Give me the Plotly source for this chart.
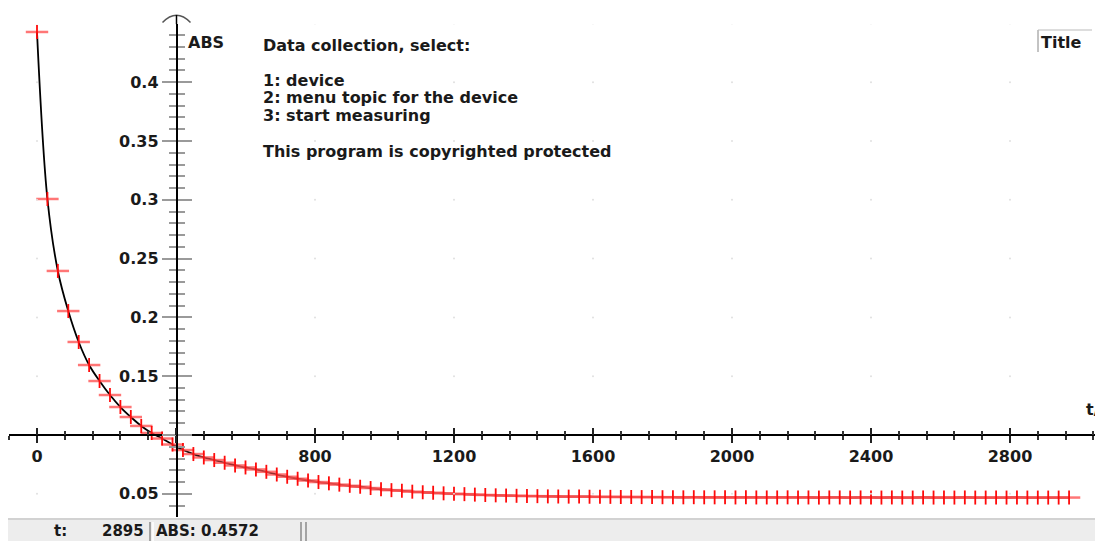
import plotly.graph_objects as go

# ---------------- data ----------------
T_S = [0, 30, 60, 90, 120, 150, 180, 210, 240, 270,
       300, 330, 360, 390, 420, 450, 480, 510, 540, 570,
       600, 630, 660, 690, 720, 750, 780, 810, 840, 870,
       900, 930, 960, 990, 1020, 1050, 1080, 1110, 1140, 1170,
       1200, 1230, 1260, 1290, 1320, 1350, 1380, 1410, 1440, 1470,
       1500, 1530, 1560, 1590, 1620, 1650, 1680, 1710, 1740, 1770,
       1800, 1830, 1860, 1890, 1920, 1950, 1980, 2010, 2040, 2070,
       2100, 2130, 2160, 2190, 2220, 2250, 2280, 2310, 2340, 2370,
       2400, 2430, 2460, 2490, 2520, 2550, 2580, 2610, 2640, 2670,
       2700, 2730, 2760, 2790, 2820, 2850, 2880, 2910, 2940, 2970]

ABS = [0.4427, 0.3007, 0.2395, 0.2054, 0.1791, 0.1595, 0.1459, 0.1340, 0.1238, 0.1153,
       0.1077, 0.1017, 0.0970, 0.0919, 0.0872, 0.0838, 0.0809, 0.0787, 0.0764, 0.0741,
       0.0724, 0.0707, 0.0687, 0.0664, 0.0645, 0.0628, 0.0613, 0.0600, 0.0589, 0.0578,
       0.0568, 0.0560, 0.0549, 0.0538, 0.0531, 0.0526, 0.0518, 0.0513, 0.0509, 0.0504,
       0.0500, 0.0497, 0.0493, 0.0490, 0.0487, 0.0485, 0.0483, 0.0481, 0.0480, 0.0478,
       0.0477, 0.0476, 0.0476, 0.0475, 0.0474, 0.0474, 0.0473, 0.0473, 0.0472, 0.0472,
       0.0471, 0.0471, 0.0470, 0.0471, 0.0470, 0.0470, 0.0470, 0.0469, 0.0470, 0.0469,
       0.0469, 0.0469, 0.0470, 0.0469, 0.0469, 0.0468, 0.0469, 0.0469, 0.0468, 0.0469,
       0.0469, 0.0468, 0.0469, 0.0468, 0.0468, 0.0469, 0.0468, 0.0468, 0.0468, 0.0469,
       0.0468, 0.0468, 0.0468, 0.0468, 0.0469, 0.0468, 0.0468, 0.0468, 0.0468, 0.0468]

X_TICKS = [0, 400, 800, 1200, 1600, 2000, 2400, 2800]
X_TICK_TEXT = ["0", "", "800", "1200", "1600", "2000", "2400", "2800"]
Y_TICKS = [0.05, 0.10, 0.15, 0.20, 0.25, 0.30, 0.35, 0.40]
Y_TICK_TEXT = ["0.05", "", "0.15", "0.2", "0.25", "0.3", "0.35", "0.4"]
GRID_Y = [0.05, 0.10, 0.15, 0.20, 0.25, 0.30, 0.35, 0.40, 0.45]

X_LABEL = "t/s"
Y_LABEL = "ABS"
LEGEND_TITLE = "Title"
INFO_LINES = [
    ("Data collection, select:", 45),
    ("1: device", 80),
    ("2: menu topic for the device", 97),
    ("3: start measuring", 115),
    ("This program is copyrighted protected", 151),
]
STATUS_T = "2895"
STATUS_ABS = "0.4572"

# ---------------- geometry (screen pixels) ----------------
W, H = 1103, 541
OFF = 8                 # page body margin that shifts the figure
PLOT_BOTTOM = 520       # screen y of drawing-area bottom (status bar below)
PLOT_H = PLOT_BOTTOM - OFF
X0_PX = 37.0            # screen x of t = 0
X_SCALE = 0.3475        # px per second
Y01_PX = 435.0          # screen y of ABS = 0.1
Y_SCALE = 1176.0        # px per ABS unit
YAXIS_PX = 176.5        # y-axis crosses at t = 400
XAXIS_LEFT_PX = 9
YAXIS_TOP_PX = 24
YAXIS_BOT_PX = 517


def px(x):
    return (x - OFF) / W


def py(y):
    return (PLOT_BOTTOM - y) / PLOT_H


def t_at(xp):
    return (xp - X0_PX) / X_SCALE


def a_at(yp):
    return 0.1 + (Y01_PX - yp) / Y_SCALE


x_range = [t_at(XAXIS_LEFT_PX), t_at(W + OFF)]
y_range = [a_at(YAXIS_BOT_PX), a_at(YAXIS_TOP_PX)]
x_domain = [px(XAXIS_LEFT_PX), 1]
y_domain = [py(YAXIS_BOT_PX), py(YAXIS_TOP_PX)]

FONT = "DejaVu Sans"
TXT = "#1a1a1a"

fig = go.Figure()

# faint grid dots at major tick intersections
gx = [x for x in X_TICKS for _ in GRID_Y]
gy = [y for _ in X_TICKS for y in GRID_Y]
fig.add_trace(go.Scatter(x=gx, y=gy, mode="markers", xaxis="x2", yaxis="y2",
                         marker=dict(size=2, color="#e0e0e0"),
                         hoverinfo="skip", showlegend=False))

# smooth black curve
fig.add_trace(go.Scatter(x=T_S, y=ABS, mode="lines",
                         line=dict(color="black", width=1.8, shape="spline", smoothing=1),
                         showlegend=False, hoverinfo="skip"))
# red crosses (wide horizontal arm, short vertical arm)
H_ARM = "rgba(255,80,80,0.78)"
V_ARM = "#ff0a0a"
fig.add_trace(go.Scatter(x=T_S, y=ABS, mode="markers",
                         marker=dict(symbol="line-ew-open", size=16, color=H_ARM,
                                     line=dict(color=H_ARM, width=2.5)),
                         showlegend=False, hoverinfo="skip"))
fig.add_trace(go.Scatter(x=T_S, y=ABS, mode="markers",
                         marker=dict(symbol="line-ns-open", size=10, color=V_ARM,
                                     line=dict(color=V_ARM, width=1.8)),
                         showlegend=False))

tickfont = dict(family=FONT, size=16, color=TXT, weight="bold")

common_x = dict(range=x_range, domain=x_domain, anchor="free", position=py(Y01_PX),
                showgrid=False, zeroline=False, fixedrange=True)
common_y = dict(range=y_range, domain=y_domain, anchor="free", position=px(YAXIS_PX),
                showgrid=False, zeroline=False, fixedrange=True)

fig.update_layout(
    width=W, height=H,
    margin=dict(l=0, r=0, t=0, b=H - PLOT_H, pad=0),
    paper_bgcolor="white", plot_bgcolor="rgba(0,0,0,0)",
    showlegend=False,
    xaxis=dict(**common_x, side="bottom", showline=True, linecolor="black", linewidth=1.5,
               tickmode="array", tickvals=X_TICKS, ticktext=X_TICK_TEXT,
               ticks="outside", ticklen=7, tickwidth=1.5, tickcolor="#222",
               tickfont=tickfont,
               minor=dict(tickmode="linear", tick0=0, dtick=80, ticks="outside",
                          ticklen=4, tickwidth=1.5, tickcolor="#333")),
    xaxis2=dict(**common_x, overlaying="x", side="bottom", showline=False,
                tickmode="array", tickvals=X_TICKS, showticklabels=False,
                ticks="inside", ticklen=7, tickwidth=1.5, tickcolor="#222",
                minor=dict(tickmode="linear", tick0=0, dtick=80, ticks="inside",
                           ticklen=4, tickwidth=1.5, tickcolor="#333")),
    yaxis=dict(**common_y, side="left", showline=True, linecolor="black", linewidth=1.5,
               tickmode="array", tickvals=Y_TICKS, ticktext=Y_TICK_TEXT,
               ticks="outside", ticklen=14, tickwidth=2, tickcolor="#9a9a9a",
               tickfont=tickfont,
               minor=dict(tickmode="linear", tick0=0, dtick=0.01, ticks="outside",
                          ticklen=7, tickwidth=2, tickcolor="#9a9a9a")),
    yaxis2=dict(**common_y, overlaying="y", side="left", showline=False,
                tickmode="array", tickvals=Y_TICKS, showticklabels=False,
                ticks="inside", ticklen=14, tickwidth=2, tickcolor="#9a9a9a",
                minor=dict(tickmode="linear", tick0=0, dtick=0.01, ticks="inside",
                           ticklen=7, tickwidth=2, tickcolor="#9a9a9a")),
)

ann = []
labfont = dict(family=FONT, size=16, color=TXT, weight="bold")
# axis labels
ann.append(dict(x=px(186), y=py(42), xref="paper", yref="paper", text=Y_LABEL,
                showarrow=False, xanchor="left", yanchor="middle", font=labfont))
ann.append(dict(x=px(1084), y=py(409), xref="paper", yref="paper", text=X_LABEL,
                showarrow=False, xanchor="left", yanchor="middle", font=labfont))
# legend-like title
ann.append(dict(x=px(1039), y=py(42), xref="paper", yref="paper", text=LEGEND_TITLE,
                showarrow=False, xanchor="left", yanchor="middle", font=labfont))
# info text
for txt, yp in INFO_LINES:
    ann.append(dict(x=px(261), y=py(yp), xref="paper", yref="paper", text=txt,
                    showarrow=False, xanchor="left", yanchor="middle",
                    font=dict(family=FONT, size=16, color=TXT, weight="bold")))
# status bar text
sfont = dict(family=FONT, size=15, color=TXT, weight="bold")
ann.append(dict(x=px(52), y=py(531), xref="paper", yref="paper", text="t:",
                showarrow=False, xanchor="left", yanchor="middle", font=sfont))
ann.append(dict(x=px(146), y=py(531), xref="paper", yref="paper", text=STATUS_T,
                showarrow=False, xanchor="right", yanchor="middle", font=sfont))
ann.append(dict(x=px(154), y=py(531), xref="paper", yref="paper",
                text="ABS: " + STATUS_ABS,
                showarrow=False, xanchor="left", yanchor="middle", font=sfont))
fig.update_layout(annotations=ann)

shapes = []
# status bar
shapes.append(dict(type="rect", xref="paper", yref="paper", x0=px(8), x1=1,
                   y0=py(549), y1=py(519), fillcolor="#ededed",
                   line=dict(width=0), layer="above"))
shapes.append(dict(type="line", xref="paper", yref="paper", x0=px(8), x1=1,
                   y0=py(519), y1=py(519), line=dict(color="#d2d2d2", width=2)))
for xs, col in [(150, "#8a8a8a"), (153, "#ffffff"), (301, "#8a8a8a"), (306, "#8a8a8a")]:
    shapes.append(dict(type="line", xref="paper", yref="paper", x0=px(xs), x1=px(xs),
                       y0=py(549), y1=py(522), line=dict(color=col, width=1.5)))
# arrow arc at top of y axis
shapes.append(dict(type="path", xref="paper", yref="paper",
                   path="M %f,%f Q %f,%f %f,%f" % (px(162.5), py(22.5), px(176.5), py(8),
                                                    px(190.5), py(22.5)),
                   line=dict(color="#555", width=1.5)))
shapes.append(dict(type="line", xref="paper", yref="paper", x0=px(176.5), x1=px(176.5),
                   y0=py(24), y1=py(15), line=dict(color="black", width=1.5)))
# title box edge
shapes.append(dict(type="line", xref="paper", yref="paper", x0=px(1038), x1=px(1038),
                   y0=py(52), y1=py(30), line=dict(color="#888", width=1)))
shapes.append(dict(type="line", xref="paper", yref="paper", x0=px(1038), x1=px(1092),
                   y0=py(30), y1=py(30), line=dict(color="#bbb", width=1)))
fig.update_layout(shapes=shapes)

fig.write_html("out.html")
